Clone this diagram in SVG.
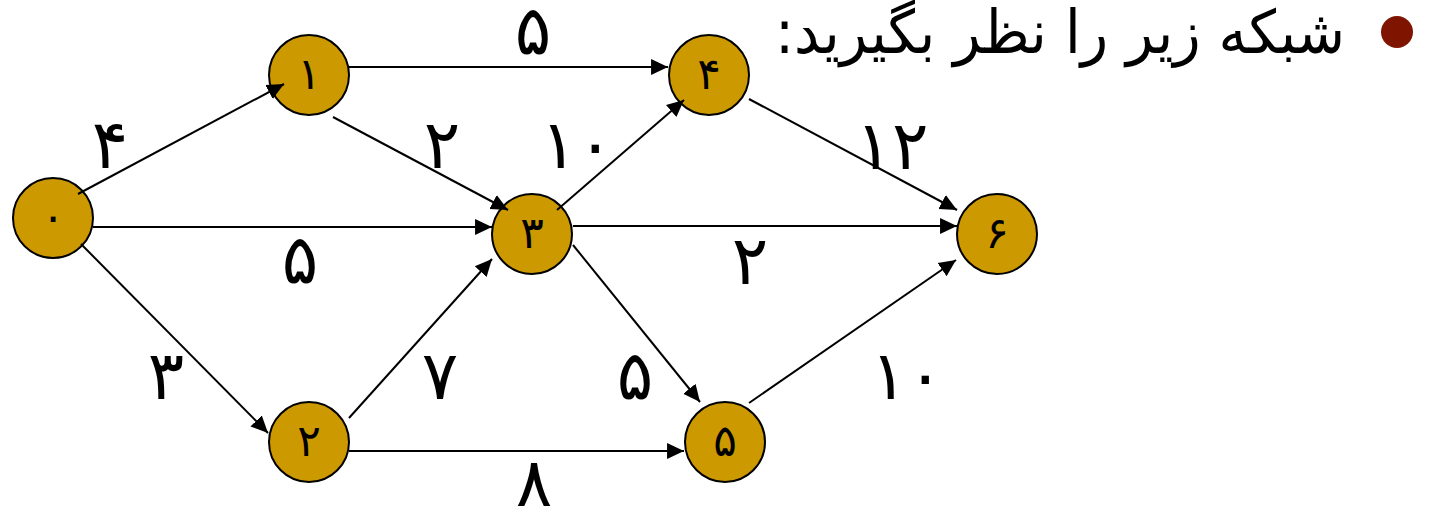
<svg xmlns="http://www.w3.org/2000/svg" width="1431" height="519" viewBox="0 0 1431 519">
<style>
.node circle{fill:#CC9900;stroke:#000;stroke-width:2}
.nl{font-family:"DejaVu Sans",sans-serif;font-size:44px;text-anchor:middle;fill:#000}
.el{font-family:"DejaVu Sans",sans-serif;font-size:68px;text-anchor:middle;fill:#000}
#edges line{stroke:#000;stroke-width:2;marker-end:url(#ah)}
.title{font-family:"DejaVu Sans",sans-serif;font-size:60px;fill:#000}
</style>
<defs>
<marker id="ah" markerUnits="userSpaceOnUse" markerWidth="18" markerHeight="18" viewBox="-16 -8 17 16" refX="0" refY="0" orient="auto">
<path d="M-16,-7.5 L0,0 L-16,7.5 Z" fill="#000"/>
</marker>
</defs>
<rect width="1431" height="519" fill="#fff"/>
<g id="n0" class="node"><circle cx="53" cy="218" r="40"/><text class="nl" x="53" y="232">۰</text></g>
<g id="n1" class="node"><circle cx="309" cy="75" r="40"/><text class="nl" x="309" y="89">۱</text></g>
<g id="n2" class="node"><circle cx="309" cy="442" r="40"/><text class="nl" x="309" y="456">۲</text></g>
<g id="n3" class="node"><circle cx="532" cy="234" r="40"/><text class="nl" x="532" y="248">۳</text></g>
<g id="n4" class="node"><circle cx="709" cy="75" r="40"/><text class="nl" x="709" y="89">۴</text></g>
<g id="n5" class="node"><circle cx="725" cy="442" r="40"/><text class="nl" x="725" y="456">۵</text></g>
<g id="n6" class="node"><circle cx="997" cy="234" r="40"/><text class="nl" x="997" y="248">۶</text></g>
<g id="edges">
<line x1="78" y1="194" x2="284" y2="84"/>
<line x1="93" y1="227" x2="492" y2="227"/>
<line x1="81" y1="244" x2="268" y2="433"/>
<line x1="349" y1="67" x2="668" y2="67"/>
<line x1="333" y1="117" x2="508" y2="210"/>
<line x1="349" y1="418" x2="492" y2="259"/>
<line x1="349" y1="451" x2="684" y2="451"/>
<line x1="557" y1="210" x2="684" y2="100"/>
<line x1="573" y1="226" x2="957" y2="226"/>
<line x1="573" y1="245" x2="700" y2="402"/>
<line x1="749" y1="99" x2="957" y2="210"/>
<line x1="749" y1="403" x2="956" y2="260"/>
</g>
<g id="edge-labels">
<text class="el" x="533" y="54">۵</text>
<text class="el" x="110" y="168">۴</text>
<text class="el" x="442" y="168">۲</text>
<text class="el" x="577" y="168">۱۰</text>
<text class="el" x="892" y="169">۱۲</text>
<text class="el" x="300" y="283">۵</text>
<text class="el" x="750" y="284">۲</text>
<text class="el" x="166" y="399">۳</text>
<text class="el" x="440" y="399">۷</text>
<text class="el" x="635" y="399">۵</text>
<text class="el" x="907" y="399">۱۰</text>
<text class="el" x="534" y="506">۸</text>
</g>
<g id="heading">
<circle cx="1397" cy="32" r="16" fill="#7F1500"/>
<text class="title" x="1345" y="53" direction="rtl" text-anchor="start" textLength="570" lengthAdjust="spacingAndGlyphs">شبکه زیر را نظر بگیرید:</text>
</g>
</svg>
